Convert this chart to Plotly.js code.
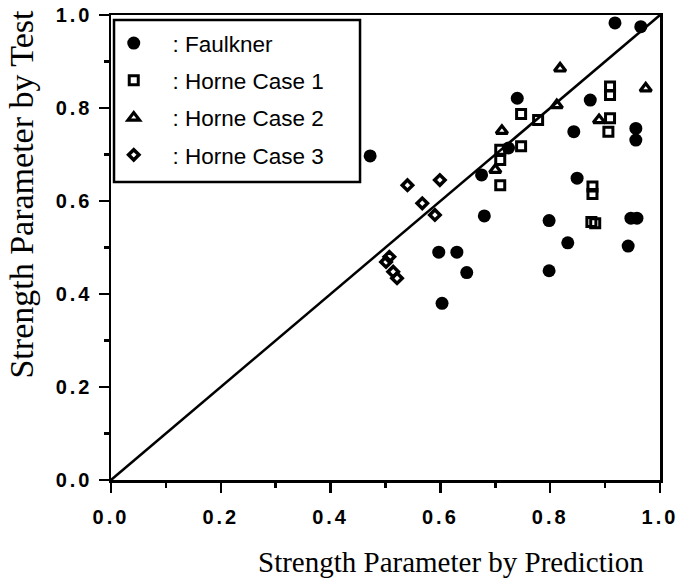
<!DOCTYPE html>
<html>
<head>
<meta charset="utf-8">
<script src="https://cdn.plot.ly/plotly-3.0.1.min.js"></script>
<style>
  html, body { margin: 0; padding: 0; background: #fff; }
  #chart { width: 682px; height: 583px; }
  .xtick text, .ytick text { letter-spacing: 3px; }
</style>
</head>
<body>
<div id="chart"></div>
<script>
// Strength parameter: prediction (x) against test (y)
const faulknerX = [0.918, 0.965, 0.740, 0.873, 0.843, 0.956, 0.956, 0.724, 0.675, 0.849, 0.472,
                   0.680, 0.798, 0.947, 0.958, 0.832, 0.942, 0.597, 0.630, 0.648, 0.798, 0.603];
const faulknerY = [0.983, 0.975, 0.821, 0.817, 0.749, 0.756, 0.731, 0.714, 0.656, 0.649, 0.697,
                   0.568, 0.558, 0.563, 0.563, 0.510, 0.503, 0.490, 0.490, 0.446, 0.450, 0.380];

const horne1X = [0.747, 0.778, 0.909, 0.909, 0.909, 0.906, 0.747, 0.709, 0.709, 0.709, 0.877, 0.877, 0.875, 0.882];
const horne1Y = [0.787, 0.774, 0.846, 0.828, 0.778, 0.749, 0.718, 0.710, 0.688, 0.634, 0.631, 0.615, 0.555, 0.552];

const horne2X = [0.818, 0.974, 0.812, 0.889, 0.712, 0.700];
const horne2Y = [0.885, 0.842, 0.806, 0.774, 0.751, 0.667];

const horne3X = [0.599, 0.540, 0.567, 0.590, 0.507, 0.501, 0.514, 0.521];
const horne3Y = [0.645, 0.634, 0.595, 0.570, 0.480, 0.469, 0.448, 0.434];

// 1:1 reference line
const parityX = [0, 1];
const parityY = [0, 1];

const seriesNames = [': Faulkner', ': Horne Case 1', ': Horne Case 2', ': Horne Case 3'];
const pad = '\u00A0\u00A0\u00A0';

const black = '#000';
const traces = [
  {
    x: parityX, y: parityY, mode: 'lines', showlegend: false, hoverinfo: 'skip',
    line: { color: black, width: 2.5 }
  },
  {
    x: faulknerX, y: faulknerY, mode: 'markers', name: pad + seriesNames[0], legendgroup: 'a',
    marker: { symbol: 'circle', size: 13, color: black }
  },
  {
    x: horne1X, y: horne1Y, mode: 'markers', name: pad + seriesNames[1], legendgroup: 'b',
    marker: { symbol: 'square-open', size: 9, color: black, line: { width: 3, color: black } }
  },
  {
    x: horne2X, y: horne2Y, mode: 'markers', name: pad + seriesNames[2], legendgroup: 'c',
    marker: { symbol: 'triangle-up-open', size: 10, color: black, line: { width: 3.2, color: black } }
  },
  {
    x: horne3X, y: horne3Y, mode: 'markers', name: pad + seriesNames[3], legendgroup: 'd',
    marker: { symbol: 'diamond-open', size: 8, color: black, line: { width: 3.5, color: black } }
  }
];

const tickFont = { family: 'Liberation Sans, Arial, sans-serif', size: 20, color: black, weight: 'bold' };
const serif = 'Liberation Serif, Times New Roman, serif';

const axisCommon = {
  range: [0, 1], dtick: 0.2, tick0: 0, tickformat: '.1f',
  showgrid: false, zeroline: false,
  showline: true, linecolor: black, linewidth: 2.5, mirror: true,
  ticks: 'outside', ticklen: 10, tickwidth: 2.5, tickcolor: black,
  minor: { dtick: 0.1, ticks: 'outside', ticklen: 5, tickwidth: 2.5, tickcolor: black, showgrid: false },
  tickfont: tickFont, fixedrange: true
};

const layout = {
  width: 682, height: 583,
  margin: { l: 111, r: 22, t: 15, b: 103 },
  paper_bgcolor: '#fff', plot_bgcolor: '#fff',
  showlegend: true,
  xaxis: Object.assign({}, axisCommon, { ticklabelstandoff: 7 }),
  yaxis: Object.assign({}, axisCommon, { ticklabelstandoff: 2 }),
  legend: {
    x: 0.005, y: 0.985, xanchor: 'left', yanchor: 'top',
    borderwidth: 0, bgcolor: 'rgba(0,0,0,0)',
    traceorder: 'grouped', tracegroupgap: 5,
    font: { family: 'Liberation Sans, Arial, sans-serif', size: 22.5, color: black }
  },
  // frame around the key
  shapes: [
    {
      type: 'rect', xref: 'paper', yref: 'paper', layer: 'above',
      x0: 0.0055, x1: 0.4536, y0: 0.641, y1: 0.989,
      line: { color: black, width: 2.5 }, fillcolor: 'rgba(0,0,0,0)'
    }
  ],
  annotations: [
    {
      text: 'Strength Parameter by Prediction', xref: 'paper', yref: 'paper',
      x: 0.619, y: -0.176, xanchor: 'center', yanchor: 'middle', showarrow: false,
      font: { family: serif, size: 29, color: black }
    },
    {
      text: 'Strength Parameter by Test', xref: 'paper', yref: 'paper',
      x: -0.163, y: 0.615, xanchor: 'center', yanchor: 'middle', showarrow: false, textangle: -90,
      font: { family: serif, size: 34, color: black }
    }
  ]
};

Plotly.newPlot('chart', traces, layout, { displayModeBar: false, staticPlot: true });
</script>
</body>
</html>
